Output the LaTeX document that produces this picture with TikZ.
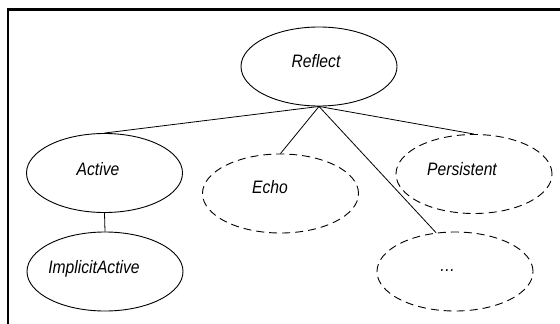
\documentclass[tikz,border=0pt]{standalone}
\usepackage{fontspec}
\setmainfont{Liberation Sans}[FakeStretch=0.87]
\usetikzlibrary{shapes.geometric}

\begin{document}
\begin{tikzpicture}[x=1pt,y=-1pt,
    cls/.style={draw,ellipse,line width=0.9pt,minimum width=156pt,minimum height=79pt,inner sep=0pt},
    opt/.style={cls,dash pattern=on 8pt off 5pt},
    txt/.style={anchor=base,inner sep=0pt,font=\fontsize{18}{21}\selectfont\itshape}]
    \useasboundingbox (0,0) rectangle (560,324);
    \draw[line width=2.7pt] (8,324) -- (8,9.7) -- (560,9.7);
    \node[cls] (reflect) at (319,66.5) {};
    \node[cls] (active) at (104.5,173) {};
    \node[cls] (implicit) at (105,271.5) {};
    \node[opt] (echo) at (280.5,193.5) {};
    \node[opt] (persistent) at (474,174) {};
    \node[opt] (more) at (455,271.5) {};
    \node[txt] (reflecttext) at (316,67) {Reflect};
    \node[txt] (activetext) at (98,175) {Active};
    \node[txt] (implicittext) at (94,273) {ImplicitActive};
    \node[txt] (echotext) at (270,193) {Echo};
    \node[txt] (persistenttext) at (462,175) {Persistent};
    \node[txt] (moretext) at (447.5,271) {\dots};
    \draw[line width=0.8pt] (reflect.south) -- (active.north);
    \draw[line width=0.8pt] (reflect.south) -- (echo.north);
    \draw[line width=0.8pt] (reflect.south) -- (persistent.north);
    \draw[line width=0.8pt] (reflect.south) -- (more.116);
    \draw[line width=0.8pt] (active.south) -- (implicit.north);
\end{tikzpicture}
\end{document}
